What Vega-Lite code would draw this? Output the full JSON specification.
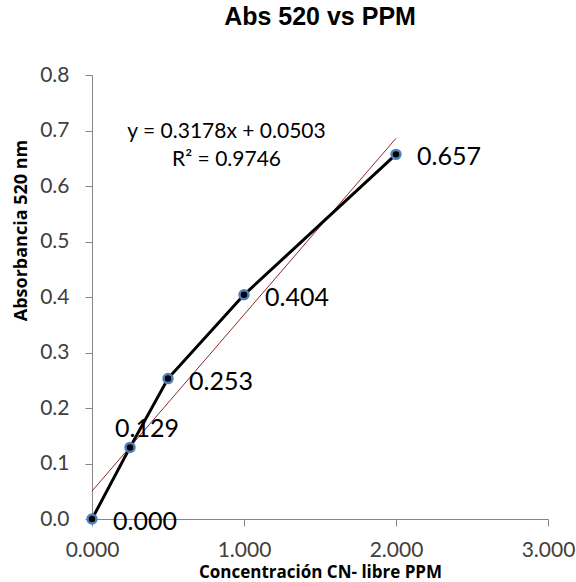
{
  "$schema": "https://vega.github.io/schema/vega-lite/v6.json",
  "width": 456,
  "height": 444,
  "autosize": {"type": "none"},
  "padding": {"left": 92, "top": 75, "right": 28, "bottom": 63},
  "background": "white",
  "title": {"text": "Abs 520 vs PPM", "font": "Liberation Sans", "fontSize": 25, "fontWeight": "bold", "color": "#000000", "anchor": "middle", "offset": 34},
  "datasets": {
    "pts": [
      {"ppm": 0, "abs": 0.0, "label": "0.000", "pos": "right"},
      {"ppm": 0.25, "abs": 0.129, "label": "0.129", "pos": "above"},
      {"ppm": 0.5, "abs": 0.253, "label": "0.253", "pos": "right"},
      {"ppm": 1, "abs": 0.404, "label": "0.404", "pos": "right"},
      {"ppm": 2, "abs": 0.657, "label": "0.657", "pos": "right"}
    ],
    "trend": [
      {"ppm": 0, "abs": 0.0503},
      {"ppm": 2, "abs": 0.6859}
    ],
    "eq": [
      {"ppm": 0.885, "abs": 0.697, "text": "y = 0.3178x + 0.0503"},
      {"ppm": 0.885, "abs": 0.647, "text": "R² = 0.9746"}
    ]
  },
  "config": {
    "view": {"stroke": null},
    "axis": {
      "grid": false,
      "domainColor": "#868686",
      "tickColor": "#868686",
      "tickSize": 7,
      "labelFlush": false,
      "labelFont": "Lato",
      "labelFontSize": 21,
      "labelColor": "#404040",
      "titleFont": "Open Sans",
      "titleFontSize": 17,
      "titleFontWeight": "bold",
      "titleColor": "#000000"
    }
  },
  "layer": [
    {
      "data": {"name": "trend"},
      "mark": {"type": "line", "color": "#8B2A2A", "strokeWidth": 1},
      "encoding": {
        "x": {"field": "ppm", "type": "quantitative", "scale": {"domain": [0, 3]}, "axis": {"title": "Concentración CN- libre PPM", "values": [0, 1, 2, 3], "format": ".3f", "labelPadding": 13, "titleY": 58, "titleBaseline": "alphabetic"}},
        "y": {"field": "abs", "type": "quantitative", "scale": {"domain": [0, 0.8]}, "axis": {"title": "Absorbancia 520 nm", "values": [0, 0.1, 0.2, 0.3, 0.4, 0.5, 0.6, 0.7, 0.8], "format": ".1f", "labelPadding": 16, "titlePadding": 9, "titleY": 155, "titleFontSize": 18}}
      }
    },
    {
      "data": {"name": "pts"},
      "mark": {"type": "line", "color": "#000000", "strokeWidth": 3},
      "encoding": {
        "x": {"field": "ppm", "type": "quantitative"},
        "y": {"field": "abs", "type": "quantitative"}
      }
    },
    {
      "data": {"name": "pts"},
      "mark": {"type": "point", "shape": "circle", "filled": true, "fill": "#000000", "stroke": "#4F81BD", "strokeWidth": 2.5, "size": 80, "opacity": 1},
      "encoding": {
        "x": {"field": "ppm", "type": "quantitative"},
        "y": {"field": "abs", "type": "quantitative"}
      }
    },
    {
      "data": {"name": "pts"},
      "transform": [{"filter": "datum.pos === 'right'"}],
      "mark": {"type": "text", "font": "Lato", "fontSize": 25, "align": "left", "baseline": "middle", "dx": 21, "dy": 3, "color": "#000000"},
      "encoding": {
        "x": {"field": "ppm", "type": "quantitative"},
        "y": {"field": "abs", "type": "quantitative"},
        "text": {"field": "label"}
      }
    },
    {
      "data": {"name": "pts"},
      "transform": [{"filter": "datum.pos === 'above'"}],
      "mark": {"type": "text", "font": "Lato", "fontSize": 25, "align": "center", "baseline": "middle", "dx": 17, "dy": -18, "color": "#000000"},
      "encoding": {
        "x": {"field": "ppm", "type": "quantitative"},
        "y": {"field": "abs", "type": "quantitative"},
        "text": {"field": "label"}
      }
    },
    {
      "data": {"name": "eq"},
      "mark": {"type": "text", "font": "Lato", "fontSize": 21, "align": "center", "baseline": "middle", "color": "#000000"},
      "encoding": {
        "x": {"field": "ppm", "type": "quantitative"},
        "y": {"field": "abs", "type": "quantitative"},
        "text": {"field": "text"}
      }
    }
  ]
}
